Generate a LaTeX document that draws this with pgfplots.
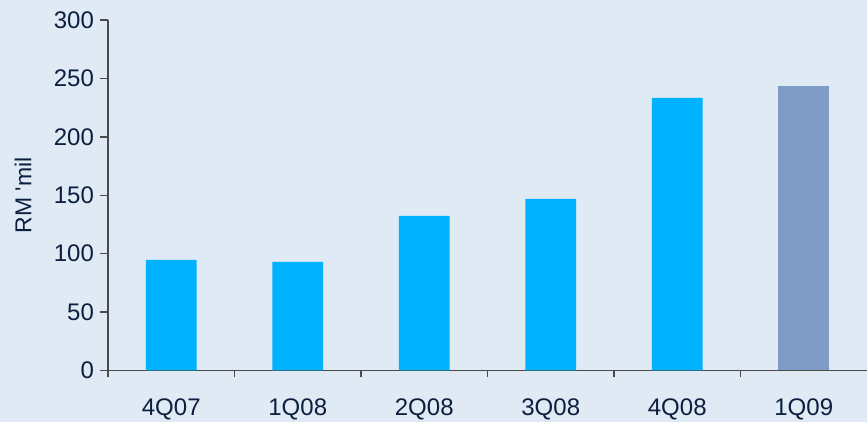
\documentclass[border=0pt]{standalone}
\usepackage{fontspec}
\setmainfont{Liberation Sans}
\usepackage{pgfplots}
\pgfplotsset{compat=1.18}

\definecolor{bgblue}{HTML}{DFEAF5}
\definecolor{barblue}{HTML}{00B2FF}
\definecolor{bargrey}{HTML}{7F9CC6}
\definecolor{txtnavy}{HTML}{0C1F3F}
\definecolor{axisgrey}{HTML}{4A4A4A}

\begin{document}
\begin{tikzpicture}
  \useasboundingbox (-54pt,-25.75pt) rectangle (379.5pt,185.25pt);
  \fill[bgblue] (-54pt,-25.75pt) rectangle (379.5pt,185.25pt);
  \begin{axis}[
    at={(0pt,0pt)}, anchor=south west,
    scale only axis,
    width=379.5pt, height=175.25pt,
    xmin=-0.5, xmax=5.5,
    ymin=0, ymax=300,
    ytick={0,50,...,300},
    xtick={0,...,5},
    xticklabels={4Q07,1Q08,2Q08,3Q08,4Q08,1Q09},
    minor xtick={-0.5,0.5,...,4.5},
    axis x line*=bottom,
    axis y line*=left,
    axis line style={axisgrey, line width=0.75pt},
    tick align=outside,
    major tick length=4pt,
    minor tick length=3.5pt,
    major x tick style={draw=none},
    minor x tick style={axisgrey, line width=0.75pt},
    ytick style={axisgrey, line width=0.75pt},
    tick label style={font=\fontsize{12}{14}\selectfont, text=txtnavy},
    /pgf/number format/assume math mode=true,
    yticklabel style={xshift=0.5pt},
    xticklabel style={anchor=center, yshift=-15.5pt},
    ylabel={RM \textquotesingle mil},
    ylabel style={font=\fontsize{11.5}{13}\selectfont, text=txtnavy,
      at={(axis description cs:-0.112,0.5)}, anchor=center},
    ybar, bar width=0.4, bar shift=0pt,
    axis background/.style={fill=bgblue},
    clip=false,
  ]
    \addplot[fill=barblue, draw=none] coordinates {
      (0,94.6) (1,92.9) (2,132.3) (3,146.8) (4,233.3)
    };
    \addplot[fill=bargrey, draw=none] coordinates {
      (5,243.6)
    };
  \end{axis}
\end{tikzpicture}
\end{document}
